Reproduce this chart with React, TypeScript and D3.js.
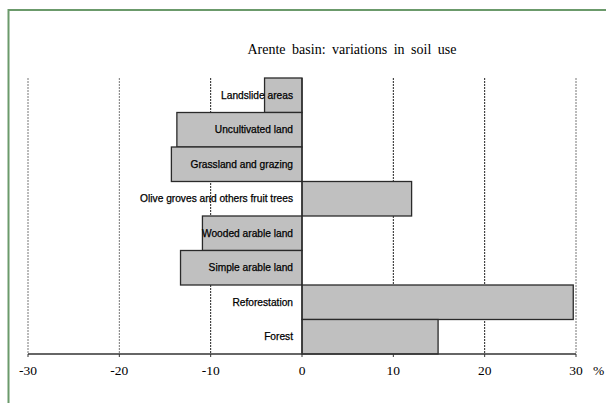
import React from "react";
import * as d3 from "d3";

const categories = [
  "Landslide areas",
  "Uncultivated land",
  "Grassland and grazing",
  "Olive groves and others fruit trees",
  "Wooded arable land",
  "Simple arable land",
  "Reforestation",
  "Forest",
];
const values = [-4.1, -13.7, -14.3, 12.0, -10.9, -13.3, 29.7, 14.9];
const ticks = [-30, -20, -10, 0, 10, 20, 30];
const title = "Arente basin: variations in soil use";

const W = 606;
const H = 403;

export default function App() {
  const x = d3.scaleLinear().domain([-30, 30]).range([28, 576]);
  const y = d3.scaleBand<string>().domain(categories).range([78, 354]).padding(0);
  const [y0, y1] = y.range();

  return (
    <svg
      width={W}
      height={H}
      style={{ position: "absolute", left: 0, top: 0, display: "block", background: "#fff" }}
    >
      <rect x={0} y={0} width={W} height={H} fill="#fff" />
      {/* frame */}
      <rect x={8.5} y={10} width={800} height={600} fill="none" stroke="#6b9a6b" strokeWidth={2} />
      {/* title */}
      <text
        x={352}
        y={54}
        textAnchor="middle"
        fontFamily="'Liberation Serif', 'Times New Roman', serif"
        fontSize={14}
        wordSpacing={3}
        fill="#000"
      >
        {title}
      </text>
      {/* gridlines */}
      {ticks
        .filter((t) => t !== 0)
        .map((t) => (
          <line
            key={"g" + t}
            x1={x(t)}
            x2={x(t)}
            y1={y0}
            y2={y1}
            stroke={Math.abs(t) === 10 || t === 20 ? "#222" : "#777"}
            strokeWidth={1}
            strokeDasharray="2 1"
          />
        ))}
      {/* bars */}
      {categories.map((c, i) => {
        const v = values[i];
        const bx = Math.min(x(0), x(v));
        const bw = Math.abs(x(v) - x(0));
        return (
          <rect
            key={c}
            x={bx}
            y={y(c)}
            width={bw}
            height={y.bandwidth()}
            fill="#c0c0c0"
            stroke="#2a2a2a"
            strokeWidth={1.3}
          />
        );
      })}
      {/* category labels */}
      {categories.map((c) => (
        <text
          key={"l" + c}
          x={x(0) - 9}
          y={(y(c) as number) + y.bandwidth() / 2}
          dy="0.35em"
          textAnchor="end"
          fontFamily="'Liberation Sans', Arial, sans-serif"
          fontSize={10.2}
          fill="#000"
          stroke="#000"
          strokeWidth={0.25}
        >
          {c}
        </text>
      ))}
      {/* zero line */}
      <line x1={x(0)} x2={x(0)} y1={y0} y2={y1} stroke="#2a2a2a" strokeWidth={1.3} />
      {/* axis */}
      <line x1={x(-30)} x2={x(30)} y1={y1} y2={y1} stroke="#333" strokeWidth={1.3} />
      {ticks.map((t) => (
        <g key={"t" + t}>
          <line x1={x(t)} x2={x(t)} y1={y1} y2={y1 + 3} stroke="#333" strokeWidth={1} />
          <text
            x={x(t)}
            y={375}
            textAnchor="middle"
            fontFamily="'Liberation Serif', 'Times New Roman', serif"
            fontSize={13.5}
            fill="#000"
          >
            {t}
          </text>
        </g>
      ))}
      <text
        x={593}
        y={375}
        fontFamily="'Liberation Serif', 'Times New Roman', serif"
        fontSize={13.5}
        fill="#000"
      >
        %
      </text>
    </svg>
  );
}
